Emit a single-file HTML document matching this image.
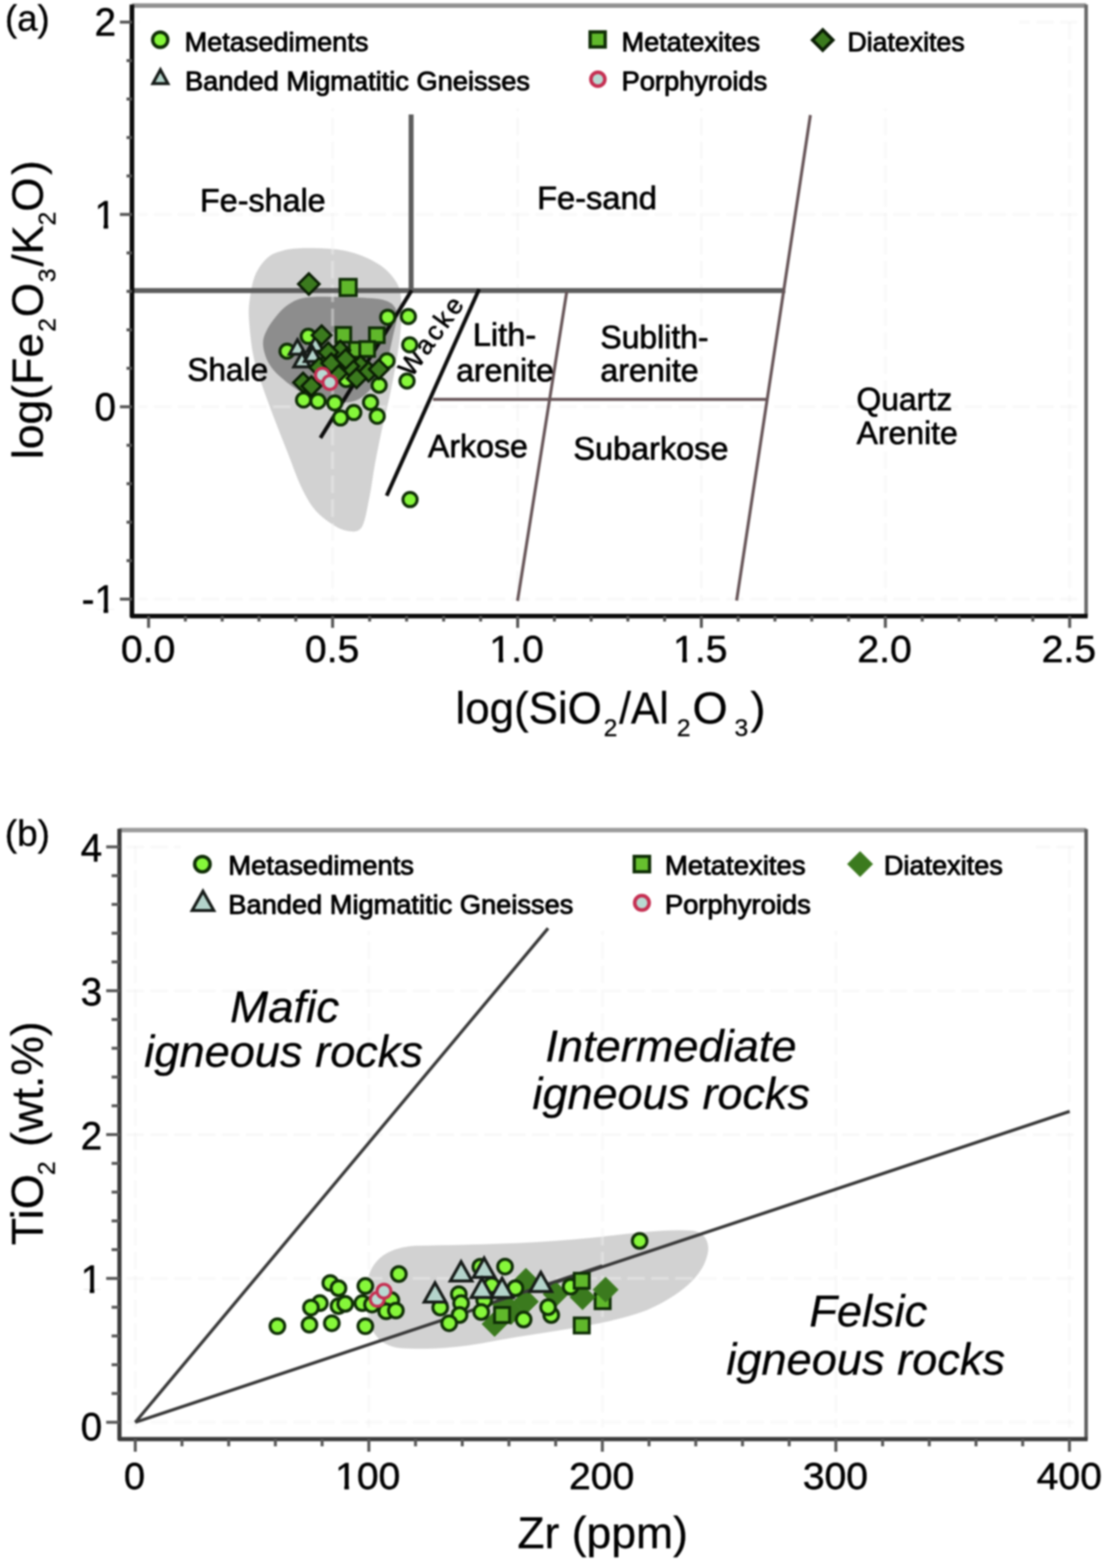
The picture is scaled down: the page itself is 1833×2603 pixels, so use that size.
<!DOCTYPE html>
<html lang="en">
<head>
<meta charset="utf-8">
<title>Geochemical classification diagrams</title>
<style>
html,body{margin:0;padding:0;background:#fff;}
body{width:1833px;height:2603px;overflow:hidden;}
svg{display:block;filter:blur(1.4px);}
svg text{font-family:"Liberation Sans", "DejaVu Sans", sans-serif;fill:#000;stroke:#000;stroke-linejoin:round;}
</style>
</head>
<body>
<svg width="1833" height="2603" viewBox="0 0 1833 2603">
<rect x="-20" y="-20" width="1873" height="2643" fill="#fff"/>
<g id="panel-a">
<path d="M413.4 530.0C414.3 545.8 416.9 571.7 420.5 590.0C424.1 608.3 429.4 622.4 435.3 640.0C441.2 657.6 448.7 677.2 455.7 695.7C462.7 714.2 470.2 732.8 477.5 751.3C484.8 769.8 492.2 791.5 499.5 807.0C506.8 822.5 512.9 833.8 521.0 844.0C529.1 854.2 539.2 862.0 548.4 868.2C557.6 874.4 567.6 880.0 576.3 881.2C585.0 882.4 594.2 884.9 600.4 875.6C606.6 866.3 609.7 843.1 613.4 825.5C617.1 807.9 619.2 788.5 622.6 770.0C626.0 751.5 629.8 732.8 633.8 714.2C637.8 695.6 642.8 677.6 646.8 658.6C650.8 639.6 655.0 618.1 658.0 600.0C661.0 581.9 663.6 565.8 665.0 550.0C666.4 534.2 667.2 517.7 666.5 505.0C665.8 492.3 665.4 483.7 661.0 474.0C656.6 464.3 648.5 454.6 640.0 447.0C631.5 439.4 620.0 433.3 610.0 428.5C600.0 423.7 590.3 420.6 580.0 418.0C569.7 415.4 561.3 414.0 548.0 413.0C534.7 412.0 513.0 411.5 500.0 412.0C487.0 412.5 479.2 413.4 470.0 416.0C460.8 418.6 452.2 420.8 444.5 427.5C436.8 434.2 428.9 444.8 424.0 456.0C419.1 467.2 416.8 482.7 415.0 495.0C413.2 507.3 412.5 514.2 413.4 530.0Z" fill="#d2d2d2"/>
<path d="M437.0 565.0C436.2 571.5 437.2 578.2 439.0 585.0C440.8 591.8 443.5 599.2 448.0 606.0C452.5 612.8 457.5 618.7 466.0 626.0C474.5 633.3 486.7 643.7 499.0 650.0C511.3 656.3 527.3 661.0 540.0 664.0C552.7 667.0 565.0 668.7 575.0 668.0C585.0 667.3 591.7 665.5 600.0 660.0C608.3 654.5 618.3 643.3 625.0 635.0C631.7 626.7 635.5 622.5 640.0 610.0C644.5 597.5 648.8 574.2 652.0 560.0C655.2 545.8 658.7 533.7 659.0 525.0C659.3 516.3 657.2 512.3 654.0 508.0C650.8 503.7 646.5 501.2 640.0 499.0C633.5 496.8 628.3 496.0 615.0 495.0C601.7 494.0 575.8 493.3 560.0 493.0C544.2 492.7 530.8 492.3 520.0 493.0C509.2 493.7 502.7 494.3 495.0 497.0C487.3 499.7 480.3 504.0 474.0 509.0C467.7 514.0 462.0 520.8 457.0 527.0C452.0 533.2 447.3 539.7 444.0 546.0C440.7 552.3 437.8 558.5 437.0 565.0Z" fill="#8d8d8d"/>
<line x1="552.2" y1="37" x2="552.2" y2="1000" stroke="#f0f0f0" stroke-width="5" stroke-opacity="0.42" stroke-dasharray="29 10.6"/>
<line x1="859.5" y1="37" x2="859.5" y2="1000" stroke="#f0f0f0" stroke-width="5" stroke-opacity="0.42" stroke-dasharray="29 10.6"/>
<line x1="1164.5" y1="37" x2="1164.5" y2="1000" stroke="#f0f0f0" stroke-width="5" stroke-opacity="0.42" stroke-dasharray="29 10.6"/>
<line x1="1470" y1="37" x2="1470" y2="1000" stroke="#f0f0f0" stroke-width="5" stroke-opacity="0.42" stroke-dasharray="29 10.6"/>
<line x1="1776" y1="37" x2="1776" y2="1000" stroke="#f0f0f0" stroke-width="5" stroke-opacity="0.42" stroke-dasharray="29 10.6"/>
<line x1="229.7" y1="36.7" x2="1790" y2="36.7" stroke="#f0f0f0" stroke-width="5" stroke-opacity="0.42" stroke-dasharray="29 10.6" stroke-dashoffset="13.9"/>
<line x1="229.7" y1="356" x2="1790" y2="356" stroke="#f0f0f0" stroke-width="5" stroke-opacity="0.42" stroke-dasharray="29 10.6" stroke-dashoffset="13.9"/>
<line x1="229.7" y1="675.3" x2="1790" y2="675.3" stroke="#f0f0f0" stroke-width="5" stroke-opacity="0.42" stroke-dasharray="29 10.6" stroke-dashoffset="13.9"/>
<line x1="229.7" y1="994.6" x2="1790" y2="994.6" stroke="#f0f0f0" stroke-width="5" stroke-opacity="0.42" stroke-dasharray="29 10.6" stroke-dashoffset="13.9"/>
<rect x="232" y="20" width="1460" height="160" fill="#fff"/>
<line x1="219.1" y1="482.3" x2="1304" y2="482.3" stroke="#5c5c5c" stroke-width="8.2"/>
<line x1="682.6" y1="190" x2="682.6" y2="485" stroke="#5c5c5c" stroke-width="8.2"/>
<line x1="683.5" y1="482" x2="532" y2="727" stroke="#0c0c0c" stroke-width="6.4"/>
<line x1="795.5" y1="480" x2="642" y2="823" stroke="#0c0c0c" stroke-width="6.4"/>
<line x1="941" y1="484" x2="859.3" y2="997.5" stroke="#665457" stroke-width="5"/>
<line x1="1345.5" y1="191" x2="1223" y2="997" stroke="#665457" stroke-width="5"/>
<line x1="719" y1="663" x2="1276" y2="663" stroke="#665457" stroke-width="5"/>
<text font-size="44" stroke-width="0.9" letter-spacing="4.4" transform="translate(683.3,627.9) rotate(-54)">Wacke</text>
<circle cx="643.7" cy="526.7" r="11.8" fill="#86f73a" stroke="#0f2e06" stroke-width="5"/>
<circle cx="678" cy="525.5" r="11.8" fill="#86f73a" stroke="#0f2e06" stroke-width="5"/>
<circle cx="680.3" cy="572.5" r="11.8" fill="#86f73a" stroke="#0f2e06" stroke-width="5"/>
<circle cx="642.5" cy="599" r="11.8" fill="#86f73a" stroke="#0f2e06" stroke-width="5"/>
<circle cx="675.8" cy="632.5" r="11.8" fill="#86f73a" stroke="#0f2e06" stroke-width="5"/>
<circle cx="629.5" cy="639.5" r="11.8" fill="#86f73a" stroke="#0f2e06" stroke-width="5"/>
<circle cx="615.2" cy="668" r="11.8" fill="#86f73a" stroke="#0f2e06" stroke-width="5"/>
<circle cx="504" cy="664" r="11.8" fill="#86f73a" stroke="#0f2e06" stroke-width="5"/>
<circle cx="528" cy="666" r="11.8" fill="#86f73a" stroke="#0f2e06" stroke-width="5"/>
<circle cx="555.8" cy="669" r="11.8" fill="#86f73a" stroke="#0f2e06" stroke-width="5"/>
<circle cx="587.4" cy="684.8" r="11.8" fill="#86f73a" stroke="#0f2e06" stroke-width="5"/>
<circle cx="565.3" cy="693.8" r="11.8" fill="#86f73a" stroke="#0f2e06" stroke-width="5"/>
<circle cx="626.3" cy="691" r="11.8" fill="#86f73a" stroke="#0f2e06" stroke-width="5"/>
<circle cx="476.6" cy="583" r="11.8" fill="#86f73a" stroke="#0f2e06" stroke-width="5"/>
<circle cx="511.8" cy="558.3" r="11.8" fill="#86f73a" stroke="#0f2e06" stroke-width="5"/>
<circle cx="575" cy="630" r="11.8" fill="#86f73a" stroke="#0f2e06" stroke-width="5"/>
<circle cx="605" cy="580.6" r="11.8" fill="#86f73a" stroke="#0f2e06" stroke-width="5"/>
<circle cx="545" cy="600" r="11.8" fill="#86f73a" stroke="#0f2e06" stroke-width="5"/>
<circle cx="680.8" cy="829.3" r="11.8" fill="#86f73a" stroke="#0f2e06" stroke-width="5"/>
<rect x="564.5" y="463.7" width="27" height="27" fill="#60b82b" stroke="#0f2e06" stroke-width="4.8"/>
<rect x="557.8" y="543.6" width="24.5" height="24.5" fill="#60b82b" stroke="#0f2e06" stroke-width="4.8"/>
<rect x="613.4" y="544.2" width="24.5" height="24.5" fill="#60b82b" stroke="#0f2e06" stroke-width="4.8"/>
<rect x="580" y="568.4" width="24.5" height="24.5" fill="#60b82b" stroke="#0f2e06" stroke-width="4.8"/>
<rect x="597.4" y="567.1" width="24.5" height="24.5" fill="#60b82b" stroke="#0f2e06" stroke-width="4.8"/>
<path d="M493.9 564.1L507.4 588.1L480.4 588.1Z" fill="#b4d4cb" stroke="#161b18" stroke-width="5"/>
<path d="M523.6 559.1L537.1 583.1L510.1 583.1Z" fill="#b4d4cb" stroke="#161b18" stroke-width="5"/>
<path d="M501.3 585.1L514.8 609.1L487.8 609.1Z" fill="#b4d4cb" stroke="#161b18" stroke-width="5"/>
<path d="M519 576.1L532.5 600.1L505.5 600.1Z" fill="#b4d4cb" stroke="#161b18" stroke-width="5"/>
<path d="M512.8 454L530.3 471.5L512.8 489L495.3 471.5Z" fill="#3b7a1e" stroke="#0a1d04" stroke-width="4.4"/>
<path d="M534 540.5L550 556.5L534 572.5L518 556.5Z" fill="#3b7a1e" stroke="#0a1d04" stroke-width="4.4"/>
<path d="M565 565.8L581 581.8L565 597.8L549 581.8Z" fill="#3b7a1e" stroke="#0a1d04" stroke-width="4.4"/>
<path d="M503.2 619L519.2 635L503.2 651L487.2 635Z" fill="#3b7a1e" stroke="#0a1d04" stroke-width="4.4"/>
<path d="M517 625L533 641L517 657L501 641Z" fill="#3b7a1e" stroke="#0a1d04" stroke-width="4.4"/>
<path d="M598.4 590.6L614.4 606.6L598.4 622.6L582.4 606.6Z" fill="#3b7a1e" stroke="#0a1d04" stroke-width="4.4"/>
<path d="M545 569L561 585L545 601L529 585Z" fill="#3b7a1e" stroke="#0a1d04" stroke-width="4.4"/>
<path d="M580 592L596 608L580 624L564 608Z" fill="#3b7a1e" stroke="#0a1d04" stroke-width="4.4"/>
<path d="M560 604L576 620L560 636L544 620Z" fill="#3b7a1e" stroke="#0a1d04" stroke-width="4.4"/>
<path d="M612 601L628 617L612 633L596 617Z" fill="#3b7a1e" stroke="#0a1d04" stroke-width="4.4"/>
<path d="M530 594L546 610L530 626L514 610Z" fill="#3b7a1e" stroke="#0a1d04" stroke-width="4.4"/>
<path d="M629 597L645 613L629 629L613 613Z" fill="#3b7a1e" stroke="#0a1d04" stroke-width="4.4"/>
<path d="M550 587L566 603L550 619L534 603Z" fill="#3b7a1e" stroke="#0a1d04" stroke-width="4.4"/>
<path d="M592 612L608 628L592 644L576 628Z" fill="#3b7a1e" stroke="#0a1d04" stroke-width="4.4"/>
<path d="M574 580L590 596L574 612L558 596Z" fill="#3b7a1e" stroke="#0a1d04" stroke-width="4.4"/>
<circle cx="535.3" cy="622.7" r="11.5" fill="#b9dad3" stroke="#c52f52" stroke-width="5"/>
<circle cx="547.7" cy="635" r="11.5" fill="#b9dad3" stroke="#c52f52" stroke-width="5"/>
<path d="M219.1 9.200000000000001H1803.3" stroke="#909090" stroke-width="7.4" fill="none"/>
<path d="M1803.3 7.4V1022.8" stroke="#666" stroke-width="5.9" fill="none"/>
<path d="M219.1 7.4V1022.8H1805.8999999999999" stroke="#0a0a0a" stroke-width="7.6" fill="none" stroke-linejoin="round"/>
<line x1="246.7" y1="1022.8" x2="246.7" y2="1042.3" stroke="#555" stroke-width="5"/>
<line x1="307.8" y1="1022.8" x2="307.8" y2="1031.8" stroke="#555" stroke-width="5"/>
<line x1="368.9" y1="1022.8" x2="368.9" y2="1031.8" stroke="#555" stroke-width="5"/>
<line x1="430" y1="1022.8" x2="430" y2="1031.8" stroke="#555" stroke-width="5"/>
<line x1="491.1" y1="1022.8" x2="491.1" y2="1031.8" stroke="#555" stroke-width="5"/>
<line x1="552.2" y1="1022.8" x2="552.2" y2="1042.3" stroke="#555" stroke-width="5"/>
<line x1="613.7" y1="1022.8" x2="613.7" y2="1031.8" stroke="#555" stroke-width="5"/>
<line x1="675.1" y1="1022.8" x2="675.1" y2="1031.8" stroke="#555" stroke-width="5"/>
<line x1="736.6" y1="1022.8" x2="736.6" y2="1031.8" stroke="#555" stroke-width="5"/>
<line x1="798" y1="1022.8" x2="798" y2="1031.8" stroke="#555" stroke-width="5"/>
<line x1="859.5" y1="1022.8" x2="859.5" y2="1042.3" stroke="#555" stroke-width="5"/>
<line x1="920.5" y1="1022.8" x2="920.5" y2="1031.8" stroke="#555" stroke-width="5"/>
<line x1="981.5" y1="1022.8" x2="981.5" y2="1031.8" stroke="#555" stroke-width="5"/>
<line x1="1042.5" y1="1022.8" x2="1042.5" y2="1031.8" stroke="#555" stroke-width="5"/>
<line x1="1103.5" y1="1022.8" x2="1103.5" y2="1031.8" stroke="#555" stroke-width="5"/>
<line x1="1164.5" y1="1022.8" x2="1164.5" y2="1042.3" stroke="#555" stroke-width="5"/>
<line x1="1225.6" y1="1022.8" x2="1225.6" y2="1031.8" stroke="#555" stroke-width="5"/>
<line x1="1286.7" y1="1022.8" x2="1286.7" y2="1031.8" stroke="#555" stroke-width="5"/>
<line x1="1347.8" y1="1022.8" x2="1347.8" y2="1031.8" stroke="#555" stroke-width="5"/>
<line x1="1408.9" y1="1022.8" x2="1408.9" y2="1031.8" stroke="#555" stroke-width="5"/>
<line x1="1470" y1="1022.8" x2="1470" y2="1042.3" stroke="#555" stroke-width="5"/>
<line x1="1531.2" y1="1022.8" x2="1531.2" y2="1031.8" stroke="#555" stroke-width="5"/>
<line x1="1592.4" y1="1022.8" x2="1592.4" y2="1031.8" stroke="#555" stroke-width="5"/>
<line x1="1653.6" y1="1022.8" x2="1653.6" y2="1031.8" stroke="#555" stroke-width="5"/>
<line x1="1714.8" y1="1022.8" x2="1714.8" y2="1031.8" stroke="#555" stroke-width="5"/>
<line x1="1776" y1="1022.8" x2="1776" y2="1042.3" stroke="#555" stroke-width="5"/>
<line x1="219.1" y1="994.6" x2="199.1" y2="994.6" stroke="#555" stroke-width="5"/>
<line x1="219.1" y1="930.7" x2="210.1" y2="930.7" stroke="#555" stroke-width="5"/>
<line x1="219.1" y1="866.9" x2="210.1" y2="866.9" stroke="#555" stroke-width="5"/>
<line x1="219.1" y1="803" x2="210.1" y2="803" stroke="#555" stroke-width="5"/>
<line x1="219.1" y1="739.2" x2="210.1" y2="739.2" stroke="#555" stroke-width="5"/>
<line x1="219.1" y1="675.3" x2="199.1" y2="675.3" stroke="#555" stroke-width="5"/>
<line x1="219.1" y1="611.4" x2="210.1" y2="611.4" stroke="#555" stroke-width="5"/>
<line x1="219.1" y1="547.6" x2="210.1" y2="547.6" stroke="#555" stroke-width="5"/>
<line x1="219.1" y1="483.7" x2="210.1" y2="483.7" stroke="#555" stroke-width="5"/>
<line x1="219.1" y1="419.9" x2="210.1" y2="419.9" stroke="#555" stroke-width="5"/>
<line x1="219.1" y1="356" x2="199.1" y2="356" stroke="#555" stroke-width="5"/>
<line x1="219.1" y1="292.1" x2="210.1" y2="292.1" stroke="#555" stroke-width="5"/>
<line x1="219.1" y1="228.3" x2="210.1" y2="228.3" stroke="#555" stroke-width="5"/>
<line x1="219.1" y1="164.4" x2="210.1" y2="164.4" stroke="#555" stroke-width="5"/>
<line x1="219.1" y1="100.6" x2="210.1" y2="100.6" stroke="#555" stroke-width="5"/>
<line x1="219.1" y1="36.7" x2="199.1" y2="36.7" stroke="#555" stroke-width="5"/>
<text x="200.8" y="1099" font-size="63" stroke-width="0.8" textLength="90.2" lengthAdjust="spacingAndGlyphs">0.0</text>
<text x="506.3" y="1099" font-size="63" stroke-width="0.8" textLength="90.2" lengthAdjust="spacingAndGlyphs">0.5</text>
<text x="812.6" y="1099" font-size="63" stroke-width="0.8" textLength="90.2" lengthAdjust="spacingAndGlyphs">1.0</text><rect x="815.2" y="1093.3" width="12.7" height="7.6" fill="#fff"/><rect x="835.5" y="1093.3" width="14.3" height="7.6" fill="#fff"/>
<text x="1117.6" y="1099" font-size="63" stroke-width="0.8" textLength="90.2" lengthAdjust="spacingAndGlyphs">1.5</text><rect x="1120.2" y="1093.3" width="12.7" height="7.6" fill="#fff"/><rect x="1140.5" y="1093.3" width="14.3" height="7.6" fill="#fff"/>
<text x="1423.6" y="1099" font-size="63" stroke-width="0.8" textLength="90.2" lengthAdjust="spacingAndGlyphs">2.0</text>
<text x="1729.6" y="1099" font-size="63" stroke-width="0.8" textLength="90.2" lengthAdjust="spacingAndGlyphs">2.5</text>
<text x="156.9" y="59.2" font-size="64" stroke-width="0.8">2</text>
<text x="156.9" y="378.5" font-size="64" stroke-width="0.8">1</text><rect x="159.5" y="372.7" width="12.5" height="7.7" fill="#fff"/><rect x="179.6" y="372.7" width="14.1" height="7.7" fill="#fff"/>
<text x="156.9" y="697.8" font-size="64" stroke-width="0.8">0</text>
<text x="135.6" y="1017.1" font-size="64" stroke-width="0.8">-1</text><rect x="159.5" y="1011.3" width="12.5" height="7.7" fill="#fff"/><rect x="179.6" y="1011.3" width="14.1" height="7.7" fill="#fff"/>
<text x="756.2" y="1200.7" font-size="75" stroke-width="0.5" textLength="243" lengthAdjust="spacingAndGlyphs">log(SiO</text>
<text x="1002.3" y="1222" font-size="41" stroke-width="0.5">2</text>
<text x="1028" y="1200.7" font-size="75" stroke-width="0.5" textLength="82.3" lengthAdjust="spacingAndGlyphs">/Al</text>
<text x="1123.8" y="1222" font-size="41" stroke-width="0.5">2</text>
<text x="1149.7" y="1200.7" font-size="75" stroke-width="0.5">O</text>
<text x="1219.5" y="1222" font-size="41" stroke-width="0.5">3</text>
<text x="1246" y="1200.7" font-size="75" stroke-width="0.5">)</text>
<g transform="translate(70.5,763) rotate(-90)">
<text x="0.8" y="0" font-size="73" stroke-width="0.5" textLength="209.6" lengthAdjust="spacingAndGlyphs">log(Fe</text>
<text x="212.3" y="21" font-size="41" stroke-width="0.5">2</text>
<text x="236.4" y="0" font-size="73" stroke-width="0.5">O</text>
<text x="294.6" y="21" font-size="41" stroke-width="0.5">3</text>
<text x="320.6" y="0" font-size="73" stroke-width="0.5">/</text>
<text x="340.6" y="0" font-size="73" stroke-width="0.5">K</text>
<text x="388.8" y="21" font-size="41" stroke-width="0.5">2</text>
<text x="411.5" y="0" font-size="73" stroke-width="0.5">O</text>
<text x="472.4" y="0" font-size="73" stroke-width="0.5">)</text>
</g>
<text x="8.2" y="50.7" font-size="62" stroke-width="0.6" textLength="74.3" lengthAdjust="spacingAndGlyphs">(a)</text>
<circle cx="266" cy="66" r="12.6" fill="#86f73a" stroke="#0f2e06" stroke-width="5.6"/>
<text x="306.5" y="85" font-size="45" stroke-width="1.5">Metasediments</text>
<path d="M266.3 115.7L278.8 138.7L253.8 138.7Z" fill="#b4d4cb" stroke="#161b18" stroke-width="5"/>
<text x="307.2" y="150" font-size="45" stroke-width="1.5" textLength="572.7" lengthAdjust="spacingAndGlyphs">Banded Migmatitic Gneisses</text>
<rect x="979.8" y="53" width="25" height="25" fill="#60b82b" stroke="#0f2e06" stroke-width="5.6"/>
<text x="1032" y="85" font-size="45" stroke-width="1.5">Metatexites</text>
<path d="M1366 49.5L1383 66.5L1366 83.5L1349 66.5Z" fill="#3b7a1e" stroke="#0a1d04" stroke-width="5.4"/>
<text x="1406.9" y="85" font-size="45" stroke-width="1.5" textLength="194.8" lengthAdjust="spacingAndGlyphs">Diatexites</text>
<circle cx="992.7" cy="131.5" r="11.6" fill="#b9dad3" stroke="#c52f52" stroke-width="6"/>
<text x="1031.9" y="150" font-size="45" stroke-width="1.5" textLength="242" lengthAdjust="spacingAndGlyphs">Porphyroids</text>
<text x="332.1" y="351.4" font-size="53" stroke-width="1.1" textLength="208.6" lengthAdjust="spacingAndGlyphs">Fe-shale</text>
<text x="891.7" y="346.7" font-size="53" stroke-width="1.1" textLength="198.9" lengthAdjust="spacingAndGlyphs">Fe-sand</text>
<text x="310.9" y="631.6" font-size="53" stroke-width="1.1" textLength="134.2" lengthAdjust="spacingAndGlyphs">Shale</text>
<text x="784.9" y="573.6" font-size="53" stroke-width="1.1" textLength="105.5" lengthAdjust="spacingAndGlyphs">Lith-</text>
<text x="757.4" y="633" font-size="53" stroke-width="1.1">arenite</text>
<text x="996.8" y="577.6" font-size="53" stroke-width="1.1">Sublith-</text>
<text x="996.8" y="633.3" font-size="53" stroke-width="1.1" textLength="163.1" lengthAdjust="spacingAndGlyphs">arenite</text>
<text x="710.6" y="758.7" font-size="53" stroke-width="1.1" textLength="165.8" lengthAdjust="spacingAndGlyphs">Arkose</text>
<text x="952" y="763" font-size="53" stroke-width="1.1" textLength="257.4" lengthAdjust="spacingAndGlyphs">Subarkose</text>
<text x="1421.9" y="681.2" font-size="53" stroke-width="1.1">Quartz</text>
<text x="1422.3" y="736.8" font-size="53" stroke-width="1.1">Arenite</text>
</g>
<g id="panel-b">
<path d="M608 2150 C608 2105 628 2072 690 2068 C780 2066 880 2066 1000 2053 C1060 2046 1110 2040 1150 2043 C1172 2046 1180 2065 1174 2085 C1165 2120 1130 2150 1074 2175 C1000 2203 900 2210 800 2230 C740 2240 700 2240 665 2238 C625 2234 608 2205 608 2150Z" fill="#d2d2d2"/>
<line x1="224.6" y1="1405" x2="224.6" y2="2370" stroke="#f0f0f0" stroke-width="5" stroke-opacity="0.42" stroke-dasharray="29 10.6"/>
<line x1="612.4" y1="1405" x2="612.4" y2="2370" stroke="#f0f0f0" stroke-width="5" stroke-opacity="0.42" stroke-dasharray="29 10.6"/>
<line x1="1000.1" y1="1405" x2="1000.1" y2="2370" stroke="#f0f0f0" stroke-width="5" stroke-opacity="0.42" stroke-dasharray="29 10.6"/>
<line x1="1387.8" y1="1405" x2="1387.8" y2="2370" stroke="#f0f0f0" stroke-width="5" stroke-opacity="0.42" stroke-dasharray="29 10.6"/>
<line x1="1775.6" y1="1405" x2="1775.6" y2="2370" stroke="#f0f0f0" stroke-width="5" stroke-opacity="0.42" stroke-dasharray="29 10.6"/>
<line x1="210" y1="1405.9" x2="1790" y2="1405.9" stroke="#f0f0f0" stroke-width="5" stroke-opacity="0.42" stroke-dasharray="29 10.6"/>
<line x1="210" y1="1644.7" x2="1790" y2="1644.7" stroke="#f0f0f0" stroke-width="5" stroke-opacity="0.42" stroke-dasharray="29 10.6"/>
<line x1="210" y1="1883.5" x2="1790" y2="1883.5" stroke="#f0f0f0" stroke-width="5" stroke-opacity="0.42" stroke-dasharray="29 10.6"/>
<line x1="210" y1="2122.3" x2="1790" y2="2122.3" stroke="#f0f0f0" stroke-width="5" stroke-opacity="0.42" stroke-dasharray="29 10.6"/>
<line x1="210" y1="2361.1" x2="1790" y2="2361.1" stroke="#f0f0f0" stroke-width="5" stroke-opacity="0.42" stroke-dasharray="29 10.6"/>
<rect x="300" y="1395" width="1420" height="150" fill="#fff"/>
<line x1="224.6" y1="2361.1" x2="910" y2="1541" stroke="#383838" stroke-width="5.2"/>
<line x1="224.6" y1="2361.1" x2="1776" y2="1845" stroke="#383838" stroke-width="5.2"/>
<rect x="988.1" y="2147.5" width="25" height="25" fill="#60b82b" stroke="#0f2e06" stroke-width="4.8"/>
<path d="M873.2 2105.2L894.2 2126.2L873.2 2147.2L852.2 2126.2Z" fill="#3b7a1e" stroke="#3b7a1e" stroke-width="1"/>
<path d="M821.2 2176.9L842.2 2197.9L821.2 2218.9L800.2 2197.9Z" fill="#3b7a1e" stroke="#3b7a1e" stroke-width="1"/>
<path d="M848.4 2157.1L869.4 2178.1L848.4 2199.1L827.4 2178.1Z" fill="#3b7a1e" stroke="#3b7a1e" stroke-width="1"/>
<path d="M873.2 2139.8L894.2 2160.8L873.2 2181.8L852.2 2160.8Z" fill="#3b7a1e" stroke="#3b7a1e" stroke-width="1"/>
<path d="M922.6 2127.4L943.6 2148.4L922.6 2169.4L901.6 2148.4Z" fill="#3b7a1e" stroke="#3b7a1e" stroke-width="1"/>
<path d="M967.2 2132.4L988.2 2153.4L967.2 2174.4L946.2 2153.4Z" fill="#3b7a1e" stroke="#3b7a1e" stroke-width="1"/>
<path d="M1005.5 2120L1026.5 2141L1005.5 2162L984.5 2141Z" fill="#3b7a1e" stroke="#3b7a1e" stroke-width="1"/>
<path d="M838 2144L859 2165L838 2186L817 2165Z" fill="#3b7a1e" stroke="#3b7a1e" stroke-width="1"/>
<line x1="800" y1="2168.4" x2="1000" y2="2101.5" stroke="#383838" stroke-width="5.2"/>
<circle cx="460.6" cy="2201.6" r="12.2" fill="#86f73a" stroke="#0f2e06" stroke-width="5"/>
<circle cx="513.8" cy="2199.1" r="12.2" fill="#86f73a" stroke="#0f2e06" stroke-width="5"/>
<circle cx="550.9" cy="2196.7" r="12.2" fill="#86f73a" stroke="#0f2e06" stroke-width="5"/>
<circle cx="606.6" cy="2201.6" r="12.2" fill="#86f73a" stroke="#0f2e06" stroke-width="5"/>
<circle cx="548.4" cy="2129.9" r="12.2" fill="#86f73a" stroke="#0f2e06" stroke-width="5"/>
<circle cx="562" cy="2138.5" r="12.2" fill="#86f73a" stroke="#0f2e06" stroke-width="5"/>
<circle cx="531.1" cy="2163.3" r="12.2" fill="#86f73a" stroke="#0f2e06" stroke-width="5"/>
<circle cx="516.3" cy="2170.7" r="12.2" fill="#86f73a" stroke="#0f2e06" stroke-width="5"/>
<circle cx="562" cy="2168.2" r="12.2" fill="#86f73a" stroke="#0f2e06" stroke-width="5"/>
<circle cx="573.2" cy="2164.5" r="12.2" fill="#86f73a" stroke="#0f2e06" stroke-width="5"/>
<circle cx="606.6" cy="2134.8" r="12.2" fill="#86f73a" stroke="#0f2e06" stroke-width="5"/>
<circle cx="601.6" cy="2163.3" r="12.2" fill="#86f73a" stroke="#0f2e06" stroke-width="5"/>
<circle cx="662.2" cy="2115" r="12.2" fill="#86f73a" stroke="#0f2e06" stroke-width="5"/>
<circle cx="649.8" cy="2158.3" r="12.2" fill="#86f73a" stroke="#0f2e06" stroke-width="5"/>
<circle cx="641.2" cy="2176.9" r="12.2" fill="#86f73a" stroke="#0f2e06" stroke-width="5"/>
<circle cx="657.3" cy="2175.6" r="12.2" fill="#86f73a" stroke="#0f2e06" stroke-width="5"/>
<circle cx="617.7" cy="2165.7" r="12.2" fill="#86f73a" stroke="#0f2e06" stroke-width="5"/>
<circle cx="838.5" cy="2102.7" r="12.2" fill="#86f73a" stroke="#0f2e06" stroke-width="5"/>
<circle cx="1062" cy="2060" r="12.2" fill="#86f73a" stroke="#0f2e06" stroke-width="5"/>
<circle cx="761.8" cy="2148.4" r="12.2" fill="#86f73a" stroke="#0f2e06" stroke-width="5"/>
<circle cx="730.9" cy="2170.7" r="12.2" fill="#86f73a" stroke="#0f2e06" stroke-width="5"/>
<circle cx="765.6" cy="2163.3" r="12.2" fill="#86f73a" stroke="#0f2e06" stroke-width="5"/>
<circle cx="763" cy="2183" r="12.2" fill="#86f73a" stroke="#0f2e06" stroke-width="5"/>
<circle cx="745.8" cy="2196.7" r="12.2" fill="#86f73a" stroke="#0f2e06" stroke-width="5"/>
<circle cx="797.5" cy="2103" r="12.2" fill="#86f73a" stroke="#0f2e06" stroke-width="5"/>
<circle cx="816.3" cy="2133.6" r="12.2" fill="#86f73a" stroke="#0f2e06" stroke-width="5"/>
<circle cx="803.9" cy="2158.3" r="12.2" fill="#86f73a" stroke="#0f2e06" stroke-width="5"/>
<circle cx="799" cy="2178" r="12.2" fill="#86f73a" stroke="#0f2e06" stroke-width="5"/>
<circle cx="869.4" cy="2190.5" r="12.2" fill="#86f73a" stroke="#0f2e06" stroke-width="5"/>
<circle cx="915.2" cy="2183" r="12.2" fill="#86f73a" stroke="#0f2e06" stroke-width="5"/>
<circle cx="910" cy="2170" r="12.2" fill="#86f73a" stroke="#0f2e06" stroke-width="5"/>
<circle cx="947.4" cy="2136" r="12.2" fill="#86f73a" stroke="#0f2e06" stroke-width="5"/>
<circle cx="855.8" cy="2138.5" r="12.2" fill="#86f73a" stroke="#0f2e06" stroke-width="5"/>
<rect x="953.4" y="2187.9" width="25" height="25" fill="#60b82b" stroke="#0f2e06" stroke-width="4.8"/>
<rect x="953.4" y="2113.7" width="25" height="25" fill="#60b82b" stroke="#0f2e06" stroke-width="4.8"/>
<rect x="821.1" y="2170.5" width="25" height="25" fill="#60b82b" stroke="#0f2e06" stroke-width="4.8"/>
<path d="M722.3 2129.4L740.3 2161.4L704.3 2161.4Z" fill="#b4d4cb" stroke="#161b18" stroke-width="5"/>
<path d="M765.6 2094.4L783.6 2126.4L747.6 2126.4Z" fill="#b4d4cb" stroke="#161b18" stroke-width="5"/>
<path d="M803.9 2088.4L821.9 2120.4L785.9 2120.4Z" fill="#b4d4cb" stroke="#161b18" stroke-width="5"/>
<path d="M800.2 2121.9L818.2 2153.9L782.2 2153.9Z" fill="#b4d4cb" stroke="#161b18" stroke-width="5"/>
<path d="M833.6 2121.9L851.6 2153.9L815.6 2153.9Z" fill="#b4d4cb" stroke="#161b18" stroke-width="5"/>
<path d="M897.9 2112L915.9 2144L879.9 2144Z" fill="#b4d4cb" stroke="#161b18" stroke-width="5"/>
<circle cx="626.3" cy="2157.1" r="11.5" fill="#b9dad3" stroke="#c52f52" stroke-width="5"/>
<circle cx="637.5" cy="2143.5" r="11.5" fill="#b9dad3" stroke="#c52f52" stroke-width="5"/>
<path d="M198.3 1378.0H1803.3" stroke="#9c9c9c" stroke-width="7.6" fill="none"/>
<path d="M1803.3 1376.3V2389.0" stroke="#5e5e5e" stroke-width="5.9" fill="none"/>
<path d="M198.3 1375.8V2389.0H1805.8999999999999" stroke="#3a3a3a" stroke-width="7" fill="none" stroke-linejoin="round"/>
<line x1="224.6" y1="2389" x2="224.6" y2="2410" stroke="#595959" stroke-width="5"/>
<line x1="302.1" y1="2389" x2="302.1" y2="2401" stroke="#595959" stroke-width="5"/>
<line x1="379.7" y1="2389" x2="379.7" y2="2401" stroke="#595959" stroke-width="5"/>
<line x1="457.2" y1="2389" x2="457.2" y2="2401" stroke="#595959" stroke-width="5"/>
<line x1="534.8" y1="2389" x2="534.8" y2="2401" stroke="#595959" stroke-width="5"/>
<line x1="612.4" y1="2389" x2="612.4" y2="2410" stroke="#595959" stroke-width="5"/>
<line x1="689.9" y1="2389" x2="689.9" y2="2401" stroke="#595959" stroke-width="5"/>
<line x1="767.5" y1="2389" x2="767.5" y2="2401" stroke="#595959" stroke-width="5"/>
<line x1="845" y1="2389" x2="845" y2="2401" stroke="#595959" stroke-width="5"/>
<line x1="922.6" y1="2389" x2="922.6" y2="2401" stroke="#595959" stroke-width="5"/>
<line x1="1000.1" y1="2389" x2="1000.1" y2="2410" stroke="#595959" stroke-width="5"/>
<line x1="1077.6" y1="2389" x2="1077.6" y2="2401" stroke="#595959" stroke-width="5"/>
<line x1="1155.2" y1="2389" x2="1155.2" y2="2401" stroke="#595959" stroke-width="5"/>
<line x1="1232.8" y1="2389" x2="1232.8" y2="2401" stroke="#595959" stroke-width="5"/>
<line x1="1310.3" y1="2389" x2="1310.3" y2="2401" stroke="#595959" stroke-width="5"/>
<line x1="1387.8" y1="2389" x2="1387.8" y2="2410" stroke="#595959" stroke-width="5"/>
<line x1="1465.4" y1="2389" x2="1465.4" y2="2401" stroke="#595959" stroke-width="5"/>
<line x1="1542.9" y1="2389" x2="1542.9" y2="2401" stroke="#595959" stroke-width="5"/>
<line x1="1620.5" y1="2389" x2="1620.5" y2="2401" stroke="#595959" stroke-width="5"/>
<line x1="1698" y1="2389" x2="1698" y2="2401" stroke="#595959" stroke-width="5"/>
<line x1="1775.6" y1="2389" x2="1775.6" y2="2410" stroke="#595959" stroke-width="5"/>
<line x1="198.3" y1="2361.1" x2="176.3" y2="2361.1" stroke="#595959" stroke-width="5"/>
<line x1="198.3" y1="2313.3" x2="185.3" y2="2313.3" stroke="#595959" stroke-width="5"/>
<line x1="198.3" y1="2265.6" x2="185.3" y2="2265.6" stroke="#595959" stroke-width="5"/>
<line x1="198.3" y1="2217.8" x2="185.3" y2="2217.8" stroke="#595959" stroke-width="5"/>
<line x1="198.3" y1="2170.1" x2="185.3" y2="2170.1" stroke="#595959" stroke-width="5"/>
<line x1="198.3" y1="2122.3" x2="176.3" y2="2122.3" stroke="#595959" stroke-width="5"/>
<line x1="198.3" y1="2074.5" x2="185.3" y2="2074.5" stroke="#595959" stroke-width="5"/>
<line x1="198.3" y1="2026.8" x2="185.3" y2="2026.8" stroke="#595959" stroke-width="5"/>
<line x1="198.3" y1="1979" x2="185.3" y2="1979" stroke="#595959" stroke-width="5"/>
<line x1="198.3" y1="1931.3" x2="185.3" y2="1931.3" stroke="#595959" stroke-width="5"/>
<line x1="198.3" y1="1883.5" x2="176.3" y2="1883.5" stroke="#595959" stroke-width="5"/>
<line x1="198.3" y1="1835.7" x2="185.3" y2="1835.7" stroke="#595959" stroke-width="5"/>
<line x1="198.3" y1="1788" x2="185.3" y2="1788" stroke="#595959" stroke-width="5"/>
<line x1="198.3" y1="1740.2" x2="185.3" y2="1740.2" stroke="#595959" stroke-width="5"/>
<line x1="198.3" y1="1692.5" x2="185.3" y2="1692.5" stroke="#595959" stroke-width="5"/>
<line x1="198.3" y1="1644.7" x2="176.3" y2="1644.7" stroke="#595959" stroke-width="5"/>
<line x1="198.3" y1="1596.9" x2="185.3" y2="1596.9" stroke="#595959" stroke-width="5"/>
<line x1="198.3" y1="1549.2" x2="185.3" y2="1549.2" stroke="#595959" stroke-width="5"/>
<line x1="198.3" y1="1501.4" x2="185.3" y2="1501.4" stroke="#595959" stroke-width="5"/>
<line x1="198.3" y1="1453.7" x2="185.3" y2="1453.7" stroke="#595959" stroke-width="5"/>
<line x1="198.3" y1="1405.9" x2="176.3" y2="1405.9" stroke="#595959" stroke-width="5"/>
<text x="205.8" y="2471.5" font-size="63" stroke-width="0.8">0</text>
<text x="556.4" y="2471.5" font-size="63" stroke-width="0.8" textLength="108.3" lengthAdjust="spacingAndGlyphs">100</text><rect x="559" y="2465.8" width="12.7" height="7.6" fill="#fff"/><rect x="579.4" y="2465.8" width="14.3" height="7.6" fill="#fff"/>
<text x="944.7" y="2471.5" font-size="63" stroke-width="0.8" textLength="108.3" lengthAdjust="spacingAndGlyphs">200</text>
<text x="1332.9" y="2471.5" font-size="63" stroke-width="0.8" textLength="108.3" lengthAdjust="spacingAndGlyphs">300</text>
<text x="1721.2" y="2471.5" font-size="63" stroke-width="0.8" textLength="108.3" lengthAdjust="spacingAndGlyphs">400</text>
<text x="133.9" y="1429.9" font-size="64" stroke-width="0.8">4</text>
<text x="133.9" y="1668.7" font-size="64" stroke-width="0.8">3</text>
<text x="133.9" y="1907.5" font-size="64" stroke-width="0.8">2</text>
<text x="133.9" y="2146.3" font-size="64" stroke-width="0.8">1</text><rect x="136.5" y="2140.5" width="12.5" height="7.7" fill="#fff"/><rect x="156.6" y="2140.5" width="14.1" height="7.7" fill="#fff"/>
<text x="133.9" y="2390.6" font-size="64" stroke-width="0.8">0</text>
<text x="858.9" y="2569.5" font-size="75" stroke-width="0.5" textLength="283.3" lengthAdjust="spacingAndGlyphs">Zr (ppm)</text>
<g transform="translate(70.5,2070) rotate(-90)">
<text x="2.7" y="0" font-size="75" stroke-width="0.5">TiO</text>
<text x="119.2" y="20.5" font-size="41" stroke-width="0.5">2</text>
<text x="166.2" y="0" font-size="75" stroke-width="0.5" textLength="207.9" lengthAdjust="spacingAndGlyphs">(wt.%)</text>
</g>
<text x="8.1" y="1404" font-size="62" stroke-width="0.6" textLength="74.8" lengthAdjust="spacingAndGlyphs">(b)</text>
<circle cx="336" cy="1434.6" r="12.8" fill="#86f73a" stroke="#0f2e06" stroke-width="5.8"/>
<text x="379.1" y="1451.7" font-size="45" stroke-width="1.5" textLength="308.2" lengthAdjust="spacingAndGlyphs">Metasediments</text>
<path d="M337 1479.4L355 1511.4L319 1511.4Z" fill="#b4d4cb" stroke="#161b18" stroke-width="5"/>
<text x="379.1" y="1517" font-size="45" stroke-width="1.5" textLength="572.8" lengthAdjust="spacingAndGlyphs">Banded Migmatitic Gneisses</text>
<rect x="1053" y="1421.7" width="25.5" height="25.5" fill="#66c02e" stroke="#0f2e06" stroke-width="5.4"/>
<text x="1103.9" y="1451.7" font-size="45" stroke-width="1.5" textLength="233.6" lengthAdjust="spacingAndGlyphs">Metatexites</text>
<path d="M1428 1413.4L1449 1434.4L1428 1455.4L1407 1434.4Z" fill="#3b7a1e" stroke="#3b7a1e" stroke-width="1"/>
<text x="1467.5" y="1451.7" font-size="45" stroke-width="1.5">Diatexites</text>
<circle cx="1065.8" cy="1498.8" r="12" fill="#b9dad3" stroke="#c52f52" stroke-width="6"/>
<text x="1103.9" y="1517" font-size="45" stroke-width="1.5" textLength="242.4" lengthAdjust="spacingAndGlyphs">Porphyroids</text>
<text x="382" y="1696.5" font-size="75" font-style="italic" stroke-width="0.5" textLength="181.1" lengthAdjust="spacingAndGlyphs">Mafic</text>
<text x="239.6" y="1770.7" font-size="75" font-style="italic" stroke-width="0.5">igneous rocks</text>
<text x="905.5" y="1761.9" font-size="75" font-style="italic" stroke-width="0.5">Intermediate</text>
<text x="884.1" y="1841" font-size="75" font-style="italic" stroke-width="0.5" textLength="460.7" lengthAdjust="spacingAndGlyphs">igneous rocks</text>
<text x="1343.7" y="2201.5" font-size="75" font-style="italic" stroke-width="0.5">Felsic</text>
<text x="1206" y="2281.6" font-size="75" font-style="italic" stroke-width="0.5">igneous rocks</text>
</g>
</svg>
</body>
</html>
